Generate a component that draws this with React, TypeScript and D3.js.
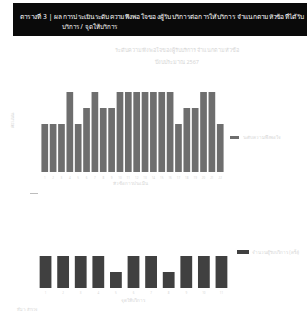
import * as d3 from "d3"

// หัวข้อและข้อมูล
const titleLines = [
  "ตารางที่ 3 | ผลการประเมินระดับความพึงพอใจของผู้รับบริการต่อการให้บริการ จำแนกตามหัวข้อที่ได้รับ",
  "บริการ / จุดให้บริการ",
]
const subtitle1 = ["ระดับความพึงพอใจของผู้รับบริการ จำแนกตามหัวข้อ", "ปีงบประมาณ 2567"]
const items1 = Array.from({ length: 22 }, (_, i) => `ข้อ ${i + 1}`)
const scores1 = [3, 3, 3, 5, 3, 4, 5, 4, 4, 5, 5, 5, 5, 5, 5, 5, 3, 4, 4, 5, 5, 3]
const legend1 = "ระดับความพึงพอใจ"
const axisTitle1 = "หัวข้อการประเมิน"
const yTitle1 = "คะแนน"

const points2 = ["จุดที่ 1", "จุดที่ 2", "จุดที่ 3", "จุดที่ 4", "จุดที่ 5", "จุดที่ 6", "จุดที่ 7", "จุดที่ 8", "จุดที่ 9", "จุดที่ 10", "จุดที่ 11"]
const scores2 = [2, 2, 2, 2, 1, 2, 2, 1, 2, 2, 2]
const legend2 = "จำนวนผู้รับบริการ (ครั้ง)"
const axisTitle2 = "จุดให้บริการ"
const note2 = "ที่มา: สำรวจ"

const font = "'Noto Sans', sans-serif"
const faint = "#d6d6d6"

export default function App() {
  const x1 = d3.scaleBand().domain(items1).range([41, 224]).paddingInner(0.2).paddingOuter(0.05)
  const y1 = d3.scaleLinear().domain([0, 5]).range([172, 92])

  const x2 = d3.scaleBand().domain(points2).range([37, 230]).paddingInner(0.33).paddingOuter(0.15)
  const y2 = d3.scaleLinear().domain([0, 2]).range([288, 256])

  return (
    <svg
      width={307}
      height={315}
      style={{ position: "absolute", left: 0, top: 0, background: "#fff" }}
      fontFamily={font}
    >
      {/* แถบหัวเรื่อง */}
      <rect x={13} y={3} width={294} height={33} fill="#0a0a0a" />
      <text x={20} y={19} fontSize={6.2} fill="#fff" textLength={284} lengthAdjust="spacingAndGlyphs">
        {titleLines[0]}
      </text>
      <text x={62} y={29} fontSize={6.2} fill="#fff">
        {titleLines[1]}
      </text>

      {/* กราฟที่ 1 */}
      {subtitle1.map((s, i) => (
        <text key={i} x={177} y={52 + i * 12} fontSize={5.5} fill={faint} textAnchor="middle">
          {s}
        </text>
      ))}
      <text x={14} y={120} fontSize={5} fill={faint} textAnchor="middle" transform="rotate(-90 14 120)">
        {yTitle1}
      </text>
      {items1.map((d, i) => (
        <rect
          key={d}
          x={x1(d)}
          y={y1(scores1[i])}
          width={x1.bandwidth()}
          height={y1(0) - y1(scores1[i])}
          fill="#6e6e6e"
        />
      ))}
      {items1.map((d) => (
        <text key={d} x={(x1(d) ?? 0) + x1.bandwidth() / 2} y={179} fontSize={3} fill={faint} textAnchor="middle">
          {d.replace("ข้อ ", "")}
        </text>
      ))}
      <text x={130} y={185} fontSize={4.5} fill={faint} textAnchor="middle">
        {axisTitle1}
      </text>
      <rect x={230} y={136} width={9} height={3} fill="#6e6e6e" />
      <text x={243} y={139} fontSize={4.5} fill={faint}>
        {legend1}
      </text>
      <rect x={30} y={193} width={8} height={1} fill="#bdbdbd" />

      {/* กราฟที่ 2 */}
      {points2.map((d, i) => (
        <rect
          key={d}
          x={x2(d)}
          y={y2(scores2[i])}
          width={x2.bandwidth()}
          height={y2(0) - y2(scores2[i])}
          fill="#404040"
        />
      ))}
      {points2.map((d) => (
        <text key={d} x={(x2(d) ?? 0) + x2.bandwidth() / 2} y={294} fontSize={3} fill={faint} textAnchor="middle">
          {d.replace("จุดที่ ", "")}
        </text>
      ))}
      <text x={133} y={302} fontSize={4.5} fill={faint} textAnchor="middle">
        {axisTitle2}
      </text>
      <rect x={237} y={250} width={12} height={4} fill="#404040" />
      <text x={252} y={254} fontSize={4.5} fill={faint}>
        {legend2}
      </text>
      <text x={17} y={311} fontSize={4} fill={faint}>
        {note2}
      </text>
    </svg>
  )
}
